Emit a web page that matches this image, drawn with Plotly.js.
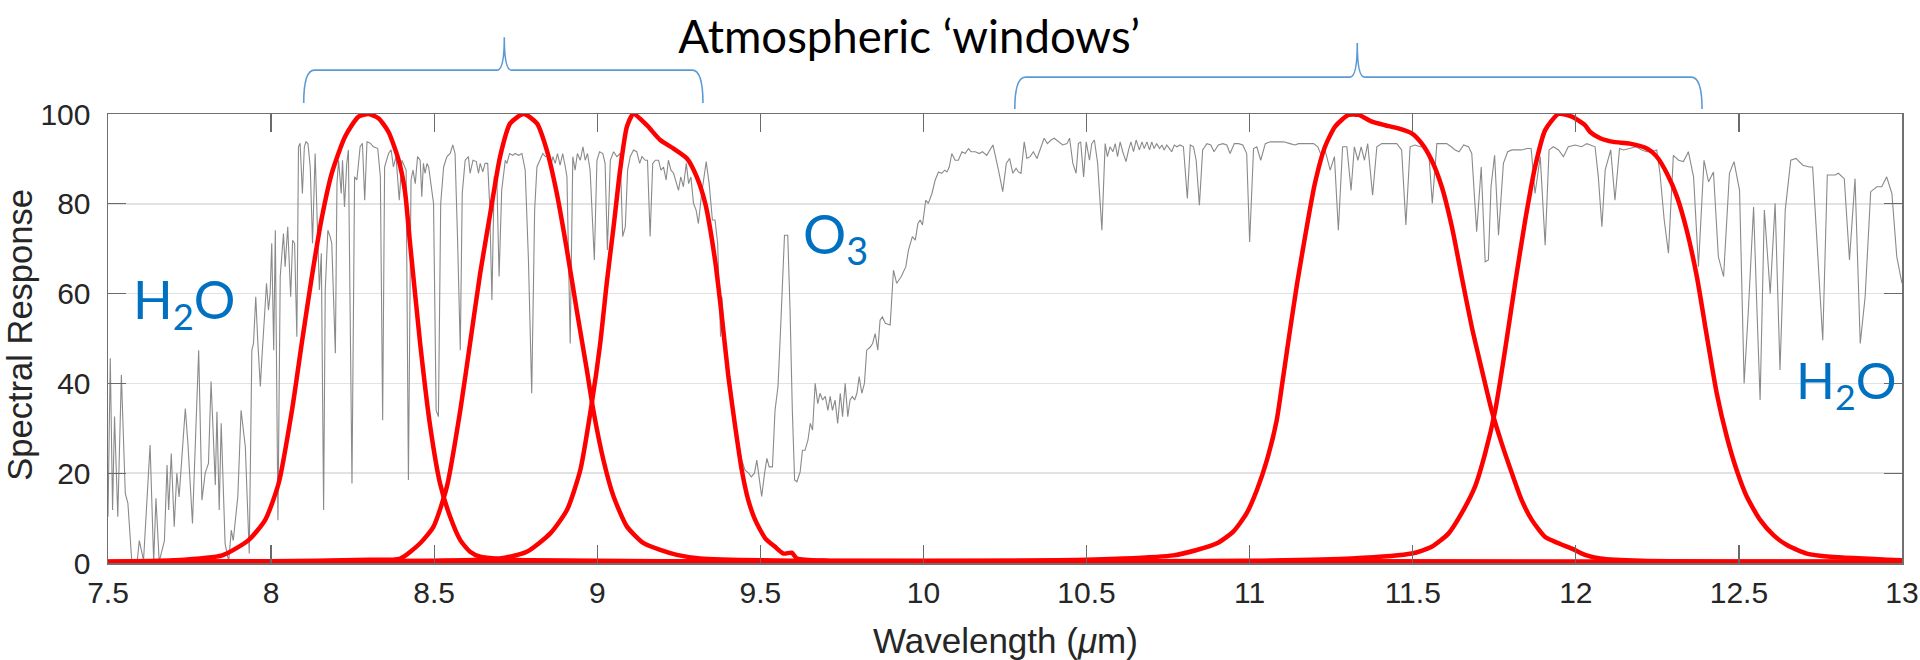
<!DOCTYPE html>
<html>
<head>
<meta charset="utf-8">
<script src="https://cdn.plot.ly/plotly-3.0.1.min.js"></script>
<style>
  html, body { margin: 0; padding: 0; background: #ffffff; }
  #chart { width: 1920px; height: 660px; }
</style>
</head>
<body>
<div id="chart"></div>
<script>
// ---------------- DATA ----------------
const titleText = "Atmospheric \u2018windows\u2019";
const xAxisTitle = "Wavelength (<i>\u03bc</i>m)";
const yAxisTitle = "Spectral Response";

const xTickVals = [7.5, 8, 8.5, 9, 9.5, 10, 10.5, 11, 11.5, 12, 12.5, 13];
const xTickText = ["7.5", "8", "8.5", "9", "9.5", "10", "10.5", "11", "11.5", "12", "12.5", "13"];
const yTickVals = [0, 20, 40, 60, 80, 100];

// Atmospheric transmission (grey line)
const atmX = [
7.500,7.507,7.514,7.520,7.530,7.541,7.553,7.561,7.573,7.589,7.596,7.609,7.629,7.640,7.647,7.657,7.673,7.681,7.686,7.694,
7.703,7.711,7.718,7.726,7.737,7.745,7.759,7.778,7.788,7.798,7.808,7.816,7.829,7.834,7.841,7.847,7.859,7.870,7.878,7.884,
7.898,7.908,7.921,7.933,7.941,7.946,7.953,7.959,7.967,7.972,7.980,7.986,7.992,7.997,8.002,8.008,8.013,8.021,8.028,8.038,
8.043,8.051,8.060,8.066,8.072,8.079,8.084,8.089,8.096,8.102,8.107,8.113,8.120,8.127,8.135,8.143,8.148,8.154,8.161,8.166,
8.174,8.181,8.186,8.197,8.202,8.207,8.215,8.219,8.225,8.232,8.237,8.248,8.256,8.263,8.273,8.280,8.287,8.294,8.304,8.314,
8.327,8.335,8.342,8.348,8.360,8.368,8.375,8.383,8.393,8.401,
8.414,8.421,8.429,8.435,8.442,8.449,8.457,8.462,8.467,8.472,8.478,8.483,8.488,8.498,8.506,8.513,8.520,8.529,8.539,8.549,
8.557,8.564,8.572,8.580,8.586,8.595,8.605,8.610,8.619,8.629,8.636,8.641,8.649,8.656,8.664,8.670,8.677,8.684,8.692,8.699,
8.707,8.718,8.723,8.731,8.741,8.748,8.759,8.769,8.779,8.789,8.799,8.808,8.815,8.825,8.833,8.841,8.851,8.858,8.864,8.871,
8.878,8.886,8.894,8.902,8.907,8.917,8.925,8.932,8.939,8.948,8.956,8.963,8.970,8.978,8.983,8.991,8.999,9.007,9.017,9.024,
9.031,9.040,9.050,9.060,9.070,9.078,9.086,9.093,9.101,9.111,9.121,9.130,9.137,9.147,9.154,9.162,9.170,9.178,9.188,9.195,
9.203,9.211,9.218,9.226,9.234,9.242,9.249,9.256,9.264,9.273,9.280,9.287,9.295,9.303,9.310,
9.320,9.334,9.343,9.353,9.361,9.369,9.378,9.382,9.392,9.402,9.413,9.423,9.433,9.443,9.453,9.464,9.472,9.482,9.489,9.496,
9.504,9.513,9.520,9.527,9.537,9.545,9.554,9.561,9.568,9.574,9.584,9.591,9.598,9.605,9.612,9.622,9.629,9.637,9.646,9.653,
9.660,9.668,9.676,9.683,9.691,9.699,9.707,9.714,9.721,9.729,9.737,9.745,9.752,9.760,9.768,9.775,9.782,9.789,9.796,9.803,
9.811,9.819,9.826,9.837,9.844,9.852,9.860,9.867,9.874,9.883,9.898,9.908,9.918,9.932,9.946,9.954,9.966,9.975,9.983,9.990,
9.997,10.007,10.015,10.026,10.036,10.046,10.056,10.065,10.072,10.079,10.087,10.097,10.107,10.118,10.128,10.138,10.146,10.159,10.171,10.181,
10.194,10.205,10.213,
10.230,10.243,10.254,10.264,10.274,10.284,10.291,10.299,10.309,10.317,10.327,10.337,10.348,10.358,10.370,10.380,10.391,10.401,10.414,10.427,
10.440,10.448,10.458,10.468,10.475,10.482,10.491,10.499,10.509,10.516,10.524,10.534,10.547,10.557,10.564,10.572,10.581,10.588,10.595,10.603,
10.611,10.621,10.629,10.636,10.644,10.652,10.662,10.670,10.677,10.685,10.693,10.700,10.707,10.715,10.724,10.731,10.738,10.746,10.754,10.761,
10.769,10.777,10.787,10.797,10.809,10.818,10.828,10.836,10.846,10.856,10.869,10.881,10.891,10.904,10.918,10.930,10.940,10.953,10.966,10.979,
10.991,11.000,11.012,11.022,11.034,11.048,11.063,11.083,11.104,11.124,
11.139,11.150,11.165,11.180,11.196,11.209,11.221,11.231,11.247,11.260,11.272,11.285,11.298,11.311,11.321,11.332,11.342,11.352,11.362,11.377,
11.390,11.405,11.421,11.436,11.451,11.466,11.479,11.492,11.507,11.523,11.538,11.550,11.560,11.574,11.589,11.604,11.618,11.630,11.642,11.656,
11.671,11.681,11.696,11.710,11.722,11.732,11.740,11.751,11.763,11.778,11.791,11.804,11.819,11.834,11.850,11.863,11.875,11.891,11.906,11.918,
11.931,11.947,11.962,11.977,11.998,12.018,
12.034,12.059,12.069,12.080,12.090,12.107,12.120,12.134,12.146,12.166,12.185,12.202,12.218,12.233,12.248,12.258,12.271,12.284,12.299,12.315,
12.330,12.345,12.361,12.376,12.393,12.407,12.422,12.437,12.453,12.471,12.485,12.502,12.516,12.529,12.545,12.555,12.565,12.578,12.596,12.611,
12.626,12.642,12.659,12.675,12.696,12.716,12.726,12.757,12.771,12.795,12.805,12.823,12.839,12.856,12.872,12.887,12.904,12.923,12.938,12.953,
12.969,12.984,13.000
];
const atmY = [
10.3,45.6,11.8,32.6,10.3,41.9,15.5,13.3,0.3,0.0,5.0,0.6,26.3,0.3,14.4,0.3,5.0,21.8,11.8,24.4,
8.1,20.0,14.7,23.3,34.4,26.6,8.8,47.4,14.0,20.0,22.2,40.4,17.4,33.7,11.8,31.1,4.3,0.3,7.3,5.0,
14.8,34.0,25.9,2.1,47.4,48.9,59.3,49.6,39.3,45.9,54.8,62.3,56.3,60.0,71.2,47.4,74.1,9.5,63.8,73.4,
66.0,74.9,59.3,71.9,71.2,50.4,92.7,93.5,82.3,92.7,93.8,93.4,88.2,71.2,91.2,72.7,60.8,69.0,11.8,60.8,
74.1,72.7,71.2,46.7,84.5,89.7,82.3,89.7,79.3,89.0,92.0,17.7,86.0,85.3,92.7,93.5,80.8,93.8,93.5,92.7,
92.3,86.0,31.8,88.2,91.2,92.0,88.2,90.5,80.8,89.7,
87.5,18.5,85.3,87.5,84.5,90.5,89.7,81.6,89.0,86.8,89.0,88.2,85.3,80.1,34.0,32.6,80.1,88.2,90.5,91.2,
93.1,91.2,71.2,47.4,82.3,89.7,90.5,86.8,89.7,89.4,86.8,89.0,87.1,89.0,89.0,80.1,58.6,86.0,86.0,63.8,
83.0,89.7,89.0,91.2,90.8,91.2,90.8,91.2,87.5,67.5,37.8,78.6,88.2,89.7,91.2,90.5,90.8,88.6,90.5,89.0,
91.2,88.6,91.2,88.2,86.0,48.9,90.5,87.5,91.2,89.7,92.7,89.7,91.2,87.5,78.6,67.5,89.7,91.6,91.2,89.0,
69.7,89.7,91.6,90.5,91.2,72.7,74.9,87.5,90.5,92.0,91.6,89.0,90.5,89.7,89.7,72.7,89.0,89.7,89.7,87.5,
88.2,85.3,89.7,87.5,86.8,84.5,83.0,86.0,83.8,89.0,84.5,86.0,80.1,78.6,75.6,
82.3,89.4,84.5,76.4,76.4,71.2,50.4,59.3,48.9,41.5,37.8,30.3,26.6,22.9,20.7,20.0,19.2,20.0,22.9,19.2,
14.8,20.0,23.3,21.4,21.4,34.0,39.3,50.4,62.3,73.0,73.0,56.3,34.0,18.5,18.1,20.3,25.1,25.1,27.4,31.1,
29.6,40.0,35.5,37.8,36.3,37.1,34.0,37.1,34.0,36.3,31.1,37.8,32.6,40.0,32.6,36.3,37.1,36.3,37.8,41.5,
37.8,40.0,47.4,48.1,48.9,51.1,47.4,54.1,54.8,53.4,53.0,65.2,62.3,63.8,66.0,69.7,72.7,71.9,75.6,76.4,
75.3,80.8,80.1,82.3,85.3,87.1,86.8,87.5,87.1,88.2,91.2,89.7,89.7,91.6,91.2,92.3,91.6,91.6,91.2,91.6,
90.8,92.0,93.1,
87.5,82.7,89.0,90.1,86.8,87.9,87.1,86.8,93.8,90.1,90.5,91.6,90.1,92.0,94.6,93.4,94.2,94.6,93.8,93.1,
93.4,94.6,89.0,86.8,93.4,93.8,86.0,93.8,89.7,93.4,94.2,89.0,74.1,93.4,90.5,92.7,91.6,93.4,90.5,93.8,
91.6,89.4,92.0,93.8,91.6,94.2,92.0,93.8,92.3,93.8,92.0,93.8,92.3,93.4,92.3,93.1,92.0,93.1,92.3,91.6,
93.1,92.7,93.1,92.7,81.2,93.1,92.7,89.7,79.7,92.0,93.4,93.1,91.6,93.1,93.4,93.1,91.2,93.4,93.4,93.1,
91.2,71.5,92.3,92.7,89.7,93.4,93.8,93.8,93.8,93.4,
93.1,93.4,93.4,93.4,93.4,92.7,90.5,92.0,87.5,90.5,74.1,92.7,92.7,83.0,92.7,89.7,92.7,89.7,93.4,81.9,
92.7,93.4,93.4,93.4,93.4,92.0,75.3,92.7,93.1,92.7,92.7,90.5,80.1,93.4,93.4,93.4,92.7,92.0,91.6,93.1,
92.7,91.2,73.8,88.2,67.1,67.5,83.8,90.8,73.0,89.0,91.6,92.0,92.0,92.0,92.3,92.3,82.3,90.5,70.8,92.0,
92.7,92.0,90.5,92.7,93.1,92.7,
93.4,92.7,86.0,74.9,87.5,92.0,80.8,92.3,92.0,92.3,92.7,92.0,91.6,91.6,92.0,86.8,76.4,69.0,90.8,89.7,
89.4,91.6,86.0,66.0,89.7,84.9,87.1,68.2,63.8,86.8,89.4,83.0,40.0,56.3,79.3,57.1,36.3,78.6,60.0,80.1,
43.0,78.6,89.7,90.1,88.6,88.2,88.2,49.6,86.4,86.4,86.8,85.6,67.5,85.6,48.9,59.3,82.7,83.8,83.8,86.0,
82.3,68.2,62.3
];

// Five instrument band spectral responses (red lines)
const band1X = [7.5,7.7,7.85,7.931,7.982,8.023,8.064,8.094,8.125,8.156,8.186,8.227,8.268,8.299,8.33,8.36,8.39,8.41,8.426,8.457,8.488,8.518,8.549,8.58,8.61,8.641,8.7,8.8,9.5,13];
const band1Y = [0.3,0.6,1.7,5.1,9.6,17.7,34,48.9,63.8,77.1,86.8,95,99.4,100,99,96,90,83,71.2,48.9,30.3,17.7,10.3,5.1,2.5,1.4,0.9,0.6,0.3,0.2];

const band2X = [7.5,8.0,8.3,8.396,8.457,8.498,8.539,8.58,8.61,8.641,8.672,8.702,8.733,8.774,8.815,8.845,8.876,8.907,8.937,8.968,8.988,9.019,9.05,9.091,9.142,9.193,9.244,9.315,9.6,13];
const band2Y = [0.2,0.4,0.7,1,4.4,8.1,17,34,48.9,64.5,77.9,90.5,97.9,100,97.9,92,82.3,69.7,56.3,43,34,22.9,14.8,8.1,4.4,2.9,1.8,1,0.5,0.2];

const band3X = [7.5,8.5,8.702,8.784,8.856,8.907,8.948,8.983,9.009,9.029,9.05,9.07,9.091,9.111,9.152,9.193,9.234,9.275,9.305,9.331,9.361,9.382,9.402,9.423,9.443,9.463,9.484,9.515,9.545,9.571,9.596,9.612,9.709,13];
const band3Y = [0.2,0.5,1,2.5,6.6,11.8,20.7,35.5,48.9,62.3,74.9,87.5,97.2,100,97.5,94.2,92.3,90.1,86,80.1,67.5,54.8,41.5,30.3,20.7,14,9.6,5.5,3.6,2.1,2.3,1,0.5,0.2];

const band4X = [7.5,10.0,10.409,10.613,10.766,10.838,10.9,10.95,10.991,11.022,11.053,11.083,11.1,11.12,11.145,11.17,11.2,11.231,11.262,11.303,11.334,11.375,11.415,11.456,11.497,11.528,11.558,11.589,11.62,11.65,11.681,11.712,11.742,11.773,11.804,11.834,11.865,11.906,11.947,11.988,12.028,12.075,12.2,13];
const band4Y = [0.2,0.4,0.6,1,1.7,2.9,4.4,7,11.1,16.2,22.9,31.8,40,50,62,72.7,84.5,92.7,97.2,99.8,99.8,98.3,97.5,96.8,95.7,93.4,89.7,83.8,74.9,63.8,52.6,43,34,26.6,20,14,9.6,5.8,4.4,3.2,1.8,1,0.5,0.3];

const band5X = [7.5,10.5,11.0,11.313,11.497,11.558,11.61,11.65,11.691,11.722,11.753,11.783,11.814,11.845,11.875,11.906,11.947,11.988,12.028,12.044,12.075,12.115,12.166,12.218,12.248,12.279,12.31,12.34,12.371,12.402,12.432,12.463,12.493,12.524,12.565,12.606,12.647,12.708,12.78,13.0];
const band5Y = [0.2,0.3,0.5,1,2.1,3.6,6.6,11.1,17,24.4,34,47.4,62.3,76.4,88.2,96.4,100,99.4,97.5,96,94.6,93.8,93.4,92.3,90.5,86.8,81.6,74.1,63.8,50.4,37.8,28.1,20.7,14.8,9.6,6.2,4,2.1,1.4,0.6];

// Absorber labels
const labelText = ["H<sub>2</sub>O", "O<sub>3</sub>", "H<sub>2</sub>O"];
const labelX = [7.572, 9.626, 12.670];
const labelY = [57.8, 72.5, 40.0];
const labelSize = [52, 54, 51];

// Window braces (wavelength start, centre, end)
const braceStart = [8.10, 10.28];
const braceMid = [8.715, 11.33];
const braceEnd = [9.324, 12.387];

// ---------------- CHART ----------------
const X0 = 7.5, X1 = 13;
const px = v => (v - X0) / (X1 - X0);

const bands = [[band1X, band1Y], [band2X, band2Y], [band3X, band3Y], [band4X, band4Y], [band5X, band5Y]];

const traces = [{
  x: atmX, y: atmY, type: 'scatter', mode: 'lines',
  line: { color: '#8a8a8a', width: 1.1 }, hoverinfo: 'skip', showlegend: false
}];
bands.forEach(b => traces.push({
  x: b[0], y: b[1], type: 'scatter', mode: 'lines',
  line: { color: '#ff0000', width: 4.5, shape: 'spline', smoothing: 0.6 },
  hoverinfo: 'skip', showlegend: false
}));

// brace shapes (paper coordinates derived from wavelength positions)
const braceRows = [
  { yb: 1.0243, yh: 1.0977, yt: 1.1712 },
  { yb: 1.0109, yh: 1.0822, yt: 1.1579 }
];
const shapes = braceStart.map((s, i) => {
  const a = px(s), m = px(braceMid[i]), e = px(braceEnd[i]);
  const r = braceRows[i];
  const d = 0.006, dm = 0.004;
  const path = `M ${a} ${r.yb} Q ${a} ${r.yh} ${a + d} ${r.yh} L ${m - dm} ${r.yh} Q ${m} ${r.yh} ${m} ${r.yt} ` +
               `Q ${m} ${r.yh} ${m + dm} ${r.yh} L ${e - d} ${r.yh} Q ${e} ${r.yh} ${e} ${r.yb}`;
  return { type: 'path', xref: 'paper', yref: 'paper', path: path,
           line: { color: '#5b9bd5', width: 1.6 }, layer: 'above' };
});

const annotations = labelText.map((t, i) => ({
  text: t, x: labelX[i], y: labelY[i], xref: 'x', yref: 'y',
  xanchor: 'left', yanchor: 'middle', showarrow: false,
  font: { family: 'Lato, "Open Sans", sans-serif', size: labelSize[i], color: '#0070c0' }
}));
annotations.push({
  text: xAxisTitle, xref: 'paper', yref: 'paper', x: 0.5, y: -0.1737,
  xanchor: 'center', yanchor: 'middle', showarrow: false,
  font: { family: '"Liberation Sans", Arial, sans-serif', size: 35, color: '#262626' }
});
annotations.push({
  text: yAxisTitle, xref: 'paper', yref: 'paper', x: -0.0492, y: 0.508, textangle: -90,
  xanchor: 'center', yanchor: 'middle', showarrow: false,
  font: { family: '"Liberation Sans", Arial, sans-serif', size: 34.5, color: '#262626' }
});

const tickFont = { family: '"Liberation Sans", Arial, sans-serif', size: 30, color: '#262626' };

const layout = {
  width: 1920, height: 660,
  margin: { l: 108, r: 18, t: 114, b: 97, pad: 0 },
  paper_bgcolor: '#ffffff', plot_bgcolor: '#ffffff',
  showlegend: false,
  title: {
    text: titleText, x: 0.4735, xanchor: 'center', y: 0.944, yanchor: 'middle', xref: 'container', yref: 'container',
    font: { family: 'Lato, "Open Sans", sans-serif', size: 45.5, color: '#000000' }
  },
  xaxis: {
    range: [X0, X1], tickmode: 'array', tickvals: xTickVals, ticktext: xTickText,
    ticks: 'inside', ticklen: 18, tickwidth: 1.2, tickcolor: '#6a6a6a',
    showline: true, linecolor: '#707070', linewidth: 1.5, mirror: 'ticks',
    showgrid: false, zeroline: false, tickfont: tickFont, ticklabelstandoff: 2
  },
  yaxis: {
    range: [0, 100], tickmode: 'array', tickvals: yTickVals,
    ticks: 'inside', ticklen: 18, tickwidth: 1.2, tickcolor: '#6a6a6a',
    showline: true, linecolor: '#707070', linewidth: 1.5, mirror: 'ticks',
    showgrid: true, gridcolor: '#e2e2e2', gridwidth: 1.5, zeroline: false,
    tickfont: tickFont, ticklabelstandoff: 10
  },
  shapes: shapes,
  annotations: annotations
};

Plotly.newPlot('chart', traces, layout, { displayModeBar: false, staticPlot: true });
</script>
</body>
</html>
